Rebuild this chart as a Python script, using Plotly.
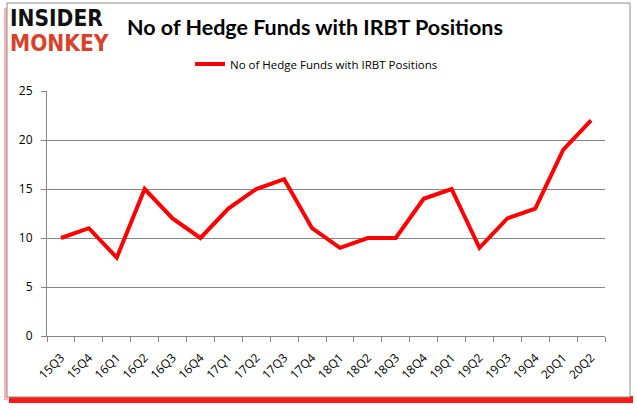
import plotly.graph_objects as go

quarters = ["15Q3","15Q4","16Q1","16Q2","16Q3","16Q4","17Q1","17Q2","17Q3","17Q4",
            "18Q1","18Q2","18Q3","18Q4","19Q1","19Q2","19Q3","19Q4","20Q1","20Q2"]
hedge_funds = [10, 11, 8, 15, 12, 10, 13, 15, 16, 11, 9, 10, 10, 14, 15, 9, 12, 13, 19, 22]
series_name = "No of Hedge Funds with IRBT Positions"

W, H = 637, 408
L, R, T, B = 47, 605, 91, 336

def px(x):
    return (x - L) / (R - L)

def py(y):
    return (B - y) / (B - T)

fig = go.Figure()
fig.add_trace(go.Scatter(x=quarters, y=hedge_funds, mode="lines", name=series_name,
                         line=dict(color="#ff0000", width=4)))

def prect(x0, y0, x1, y1, **kw):
    return dict(type="rect", xref="paper", yref="paper",
                x0=px(x0), x1=px(x1), y0=py(y1), y1=py(y0), **kw)

shapes = [
    prect(9, 396, 633, 403, fillcolor="rgba(255,0,0,0.9)", line=dict(width=0), layer="below"),
    prect(4, 8, 8, 400, fillcolor="rgba(255,130,130,0.6)", line=dict(width=0), layer="below"),
    prect(7, 3, 630, 397, fillcolor="white", line=dict(color="#8c8c8c", width=1), layer="below"),
]

annotations = [
    dict(text="<b>INSIDER</b>", x=px(8), y=py(18), xref="paper", yref="paper", showarrow=False,
         xanchor="left", yanchor="middle",
         font=dict(family="DejaVu Sans Condensed", size=22.5, color="#111111")),
    dict(text="<b>MONKEY</b>", x=px(8), y=py(43.5), xref="paper", yref="paper", showarrow=False,
         xanchor="left", yanchor="middle",
         font=dict(family="DejaVu Sans Condensed", size=22.5, color="#d9412b")),
    dict(text="<b>No of Hedge Funds with IRBT Positions</b>", x=px(125), y=py(27),
         xref="paper", yref="paper", showarrow=False, xanchor="left", yanchor="middle",
         font=dict(family="Lato", size=21.5, color="#000000")),
]

fig.update_layout(
    width=W, height=H,
    margin=dict(l=L, r=W - R, t=T, b=H - B, autoexpand=False),
    paper_bgcolor="white", plot_bgcolor="white",
    shapes=shapes, annotations=annotations,
    showlegend=True,
    legend=dict(x=190 / W, y=1 - 64 / H, xref="container", yref="container",
                xanchor="left", yanchor="middle",
                orientation="h", font=dict(family="Open Sans", size=11.5, color="#000000"),
                bgcolor="rgba(0,0,0,0)"),
    xaxis=dict(type="category", range=[-0.5, 19.5], tickangle=-45, tickson="boundaries",
               ticks="outside", ticklen=5, tickcolor="#868686", showline=True, linecolor="#868686",
               showgrid=False, automargin=False, ticklabelstandoff=9,
               tickfont=dict(family="Open Sans", size=12, color="#000000")),
    yaxis=dict(range=[0, 25], dtick=5, ticks="outside", ticklen=5, tickcolor="#868686",
               showline=True, linecolor="#868686", showgrid=True, gridcolor="#868686",
               zeroline=False, automargin=False, ticklabelstandoff=6,
               tickfont=dict(family="Open Sans", size=12, color="#000000")),
)

fig.write_html("out.html", config={"displayModeBar": False},
               post_script="document.body.style.margin='0';document.body.style.padding='0';")
